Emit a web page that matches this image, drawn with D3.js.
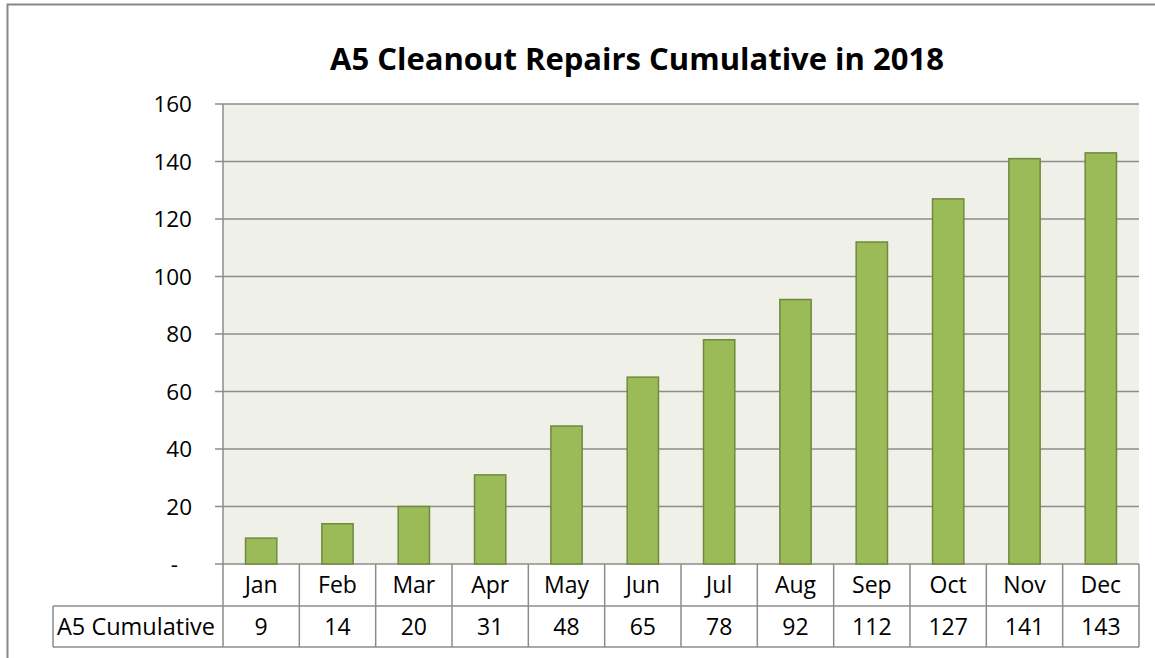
<!DOCTYPE html>
<meta charset="utf-8">
<style>
  body { margin: 0; background: #fff; }
  text { font-family: "Open Sans", Lato, sans-serif; fill: #000; }
  .grid line { stroke: #8c8c8c; stroke-width: 1.5px; }
  .cell line { stroke: #8c8c8c; stroke-width: 1.5px; }
</style>
<svg width="1155" height="658"></svg>
<script src="https://d3js.org/d3.v7.min.js"></script>
<script>
var months = ["Jan","Feb","Mar","Apr","May","Jun","Jul","Aug","Sep","Oct","Nov","Dec"];
var cumulative = [9, 14, 20, 31, 48, 65, 78, 92, 112, 127, 141, 143];
var seriesName = "A5 Cumulative";
var yTicks = [0, 20, 40, 60, 80, 100, 120, 140, 160];
var title = "A5 Cleanout Repairs Cumulative in 2018";

var svg = d3.select("svg");

// plot box (top/left are reserved on window, so use other names)
var pL = 223, pR = 1139, pT = 104, pB = 564;
var rowH = 41, labelLeft = 53;

// outer chart border (only left and top edges are visible)
svg.append("path")
    .attr("d", "M7.5,658 V4.5 H1155")
    .attr("fill", "none")
    .attr("stroke", "#878787")
    .attr("stroke-width", 2);

svg.append("text")
    .attr("x", 637)
    .attr("y", 70)
    .attr("text-anchor", "middle")
    .attr("font-weight", "bold")
    .attr("font-size", 31)
    .text(title);

var x = d3.scaleBand().domain(months).range([pL, pR]).paddingInner(0.59).paddingOuter(0.295);
var cellX = d3.scaleBand().domain(months).range([pL, pR]);
var y = d3.scaleLinear().domain([0, 160]).range([pB, pT]);

// plot background
svg.append("rect")
    .attr("x", pL).attr("y", pT)
    .attr("width", pR - pL).attr("height", pB - pT)
    .attr("fill", "#eff1e8");

// gridlines + ticks
var grid = svg.append("g").attr("class", "grid");
grid.selectAll("line")
  .data(yTicks)
  .enter().append("line")
    .attr("x1", pL - 8)
    .attr("x2", pR)
    .attr("y1", function(d) { return y(d); })
    .attr("y2", function(d) { return y(d); });

var yAxis = svg.append("g")
    .attr("transform", "translate(" + (pL - 8) + ",0)")
    .call(d3.axisLeft(y).tickValues(yTicks).tickSize(0).tickPadding(23)
      .tickFormat(function(d) { return d === 0 ? "-" : d; }));
yAxis.select(".domain").remove();
yAxis.selectAll("text")
    .attr("font-size", 22.5)
    .attr("font-family", "'Open Sans', sans-serif")
    .attr("fill", "#000")
    .attr("dx", function(d) { return d === 0 ? -14 : 0; })
    .attr("dy", "0.34em");

// bars
svg.append("g")
  .selectAll("rect")
  .data(cumulative)
  .enter().append("rect")
    .attr("x", function(d, i) { return x(months[i]); })
    .attr("y", function(d) { return y(d); })
    .attr("width", x.bandwidth())
    .attr("height", function(d) { return y(0) - y(d); })
    .attr("fill", "#9bbb59")
    .attr("stroke", "#71893f")
    .attr("stroke-width", 1.5);

// plot left edge
svg.append("line")
    .attr("x1", pL).attr("x2", pL)
    .attr("y1", pT).attr("y2", pB)
    .attr("stroke", "#8c8c8c").attr("stroke-width", 1.5);

// data table
var table = svg.append("g").attr("class", "cell");
var r1 = pB, r2 = pB + rowH + 1, r3 = r2 + rowH;

table.append("line").attr("x1", labelLeft).attr("x2", pR).attr("y1", r2).attr("y2", r2);
table.append("line").attr("x1", labelLeft).attr("x2", pR).attr("y1", r3).attr("y2", r3);
table.append("line").attr("x1", labelLeft).attr("x2", labelLeft).attr("y1", r2).attr("y2", r3);
table.append("line").attr("x1", pL).attr("x2", pL).attr("y1", r1).attr("y2", r3);
table.selectAll(".sep")
  .data(months)
  .enter().append("line")
    .attr("class", "sep")
    .attr("x1", function(d) { return cellX(d) + cellX.bandwidth(); })
    .attr("x2", function(d) { return cellX(d) + cellX.bandwidth(); })
    .attr("y1", r1).attr("y2", r3);

table.selectAll(".month")
  .data(months)
  .enter().append("text")
    .attr("class", "month")
    .attr("x", function(d) { return cellX(d) + cellX.bandwidth() / 2; })
    .attr("y", (r1 + r2) / 2)
    .attr("dy", "0.35em")
    .attr("text-anchor", "middle")
    .attr("font-size", 23)
    .text(function(d) { return d; });

table.selectAll(".val")
  .data(cumulative)
  .enter().append("text")
    .attr("class", "val")
    .attr("x", function(d, i) { return cellX(months[i]) + cellX.bandwidth() / 2; })
    .attr("y", (r2 + r3) / 2)
    .attr("dy", "0.35em")
    .attr("text-anchor", "middle")
    .attr("font-size", 23)
    .text(function(d) { return d; });

table.append("text")
    .attr("x", 57)
    .attr("y", (r2 + r3) / 2)
    .attr("dy", "0.35em")
    .attr("font-size", 23.5)
    .text(seriesName);
</script>
